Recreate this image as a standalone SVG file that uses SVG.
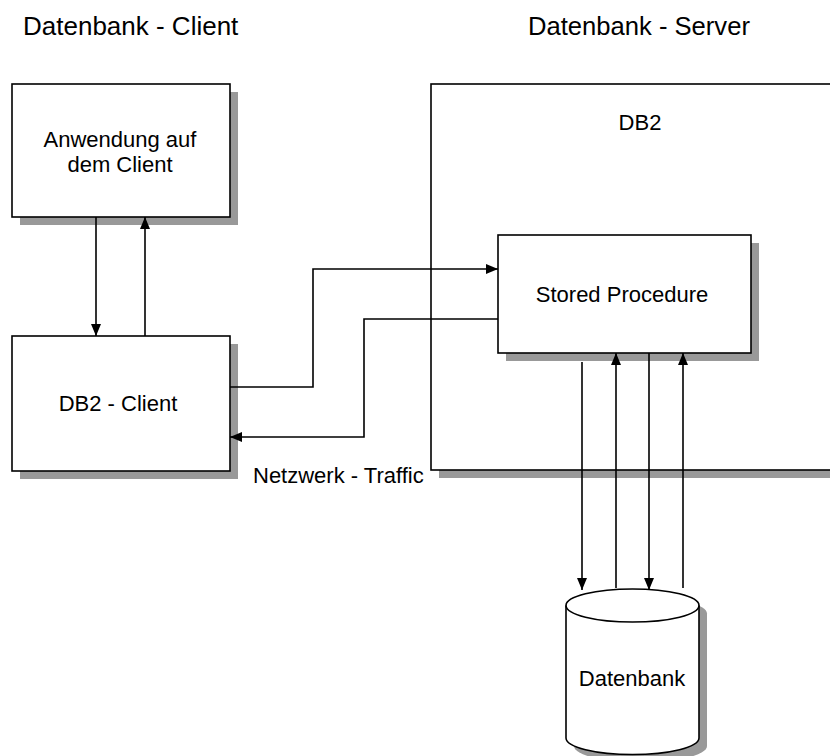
<svg xmlns="http://www.w3.org/2000/svg" width="830" height="756" viewBox="0 0 830 756">
<style>
.box{fill:#fff;stroke:#000;stroke-width:1.6}
.sh{fill:#999;stroke:none}
.ln{fill:none;stroke:#000;stroke-width:1.6}
text{font-family:"Liberation Sans",Arial,sans-serif;fill:#000;font-size:22px}
.mid{text-anchor:middle}
</style>
<defs>
<marker id="ah" viewBox="0 0 12 10" refX="12" refY="5" markerWidth="12" markerHeight="10" markerUnits="userSpaceOnUse" orient="auto">
<path d="M0,0 L12,5 L0,10 z" fill="#000"/>
</marker>
</defs>
<rect width="830" height="756" fill="#fff"/>
<g id="titles">
<text x="23" y="35" style="font-size:26px">Datenbank - Client</text>
<text x="528" y="35" style="font-size:25.6px">Datenbank - Server</text>
</g>
<g id="server">
<rect class="sh" x="439" y="92" width="400" height="386"/>
<rect class="box" x="431" y="84" width="410" height="386"/>
<text class="mid" x="640" y="130">DB2</text>
</g>
<g id="anwendung">
<rect class="sh" x="20" y="92" width="218" height="133"/>
<rect class="box" x="12" y="84" width="218" height="133"/>
<text class="mid" x="120" y="147">Anwendung auf</text>
<text class="mid" x="120" y="172">dem Client</text>
</g>
<g id="db2client">
<rect class="sh" x="20" y="344" width="218" height="135"/>
<rect class="box" x="12" y="336" width="218" height="135"/>
<text class="mid" x="118" y="411">DB2 - Client</text>
</g>
<g id="storedproc">
<rect class="sh" x="506" y="243" width="253" height="118"/>
<rect class="box" x="498" y="235" width="253" height="118"/>
<text class="mid" x="622" y="302">Stored Procedure</text>
</g>
<g id="datenbank">
<path class="sh" d="M574,613.5 A66.5,16.5 0 0 1 707,613.5 L707,746 A66.5,16.5 0 0 1 574,746 Z"/>
<path class="box" d="M566,605.5 A66.5,16.5 0 0 1 699,605.5 L699,738 A66.5,16.5 0 0 1 566,738 Z"/>
<path class="ln" d="M566,605.5 A66.5,16.5 0 0 0 699,605.5"/>
<text class="mid" x="632" y="686">Datenbank</text>
</g>
<g id="connectors">
<line class="ln" x1="96" y1="217" x2="96" y2="336" marker-end="url(#ah)"/>
<line class="ln" x1="145" y1="336" x2="145" y2="217" marker-end="url(#ah)"/>
<polyline class="ln" points="230,387 313,387 313,269 498,269" marker-end="url(#ah)"/>
<polyline class="ln" points="498,319 364,319 364,437 230,437" marker-end="url(#ah)"/>
<line class="ln" x1="582" y1="362" x2="582" y2="590" marker-end="url(#ah)"/>
<line class="ln" x1="616" y1="588" x2="616" y2="353" marker-end="url(#ah)"/>
<line class="ln" x1="649" y1="353" x2="649" y2="590" marker-end="url(#ah)"/>
<line class="ln" x1="683" y1="588" x2="683" y2="353" marker-end="url(#ah)"/>
<text x="253" y="483">Netzwerk - Traffic</text>
</g>
</svg>
